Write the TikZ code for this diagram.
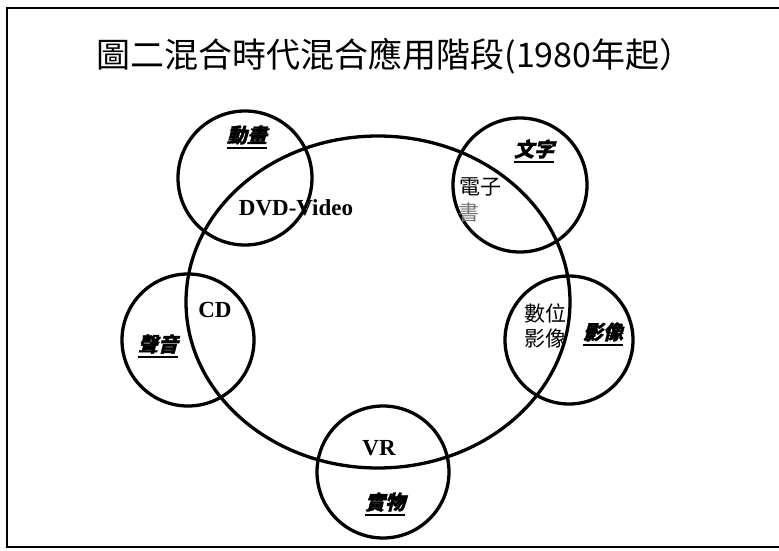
\documentclass[tikz,border=0pt]{standalone}
\usepackage{fontspec}
\setmainfont{Liberation Serif}
\newfontfamily\cjk{Noto Sans CJK TC}
\newfontfamily\cjkit{Noto Sans CJK TC}[FakeSlant=0.25,FakeBold=1.5]
\usetikzlibrary{shapes.geometric}
\begin{document}
\begin{tikzpicture}[x=1pt,y=-1pt,
  ring/.style={circle, draw, line width=3.3pt, minimum size=#1, inner sep=0pt},
  medium/.style={font=\cjkit\bfseries\fontsize{20}{20}\selectfont, inner sep=0pt},
  latin/.style={font=\bfseries\fontsize{23}{23}\selectfont, inner sep=0pt},
  plain/.style={font=\cjk\fontsize{21}{21}\selectfont, inner sep=0pt},
  uline/.style={line width=1.6pt},
  frame/.style={line width=2.2pt}]
\useasboundingbox (0,0) rectangle (779,551);
% frame
\coordinate (ftr) at (781,8);
\coordinate (ftl) at (7,8);
\coordinate (fbl) at (7,547);
\coordinate (fbr) at (781,547);
\draw[frame] (ftr) -- (ftl) -- (fbl) -- (fbr);
% title
\node[font=\cjk\fontsize{34}{34}\selectfont, inner sep=0pt] (title) at (395,56) {圖二混合時代混合應用階段(1980年起）};
% big ellipse
\node[ellipse, draw, line width=3.3pt, minimum width=384pt, minimum height=332pt, inner sep=0pt] (big) at (378,302) {};
% small circles
\node[ring=134pt] (anim) at (245,178) {};
\node[ring=134pt] (text) at (520,185) {};
\node[ring=132pt] (sound) at (188,340) {};
\node[ring=128pt] (image) at (569,340) {};
\node[ring=132pt] (real) at (383,472) {};
% medium labels
\node[medium] (lanim) at (247,135) {動畫};
\node[medium] (ltext) at (534,149) {文字};
\node[medium] (lsound) at (158,344) {聲音};
\node[medium] (limage) at (603,332) {影像};
\node[medium] (lreal) at (385,502) {實物};
\foreach \n in {lanim,ltext,lsound,limage,lreal}
  \draw[uline] ([yshift=-3pt]\n.south west) -- ([yshift=-3pt]\n.south east);
% overlap labels
\node[latin] (dvd) at (296,208) {DVD-Video};
\node[latin] (cd) at (215,310) {CD};
\node[latin] (vr) at (379,448) {VR};
\node[plain] (ebook1) at (480,187) {電子};
\node[plain, text=black!55] (ebook2) at (469,213) {書};
\node[plain] (digi1) at (545,313) {數位};
\node[plain] (digi2) at (545,338) {影像};
\end{tikzpicture}
\end{document}
